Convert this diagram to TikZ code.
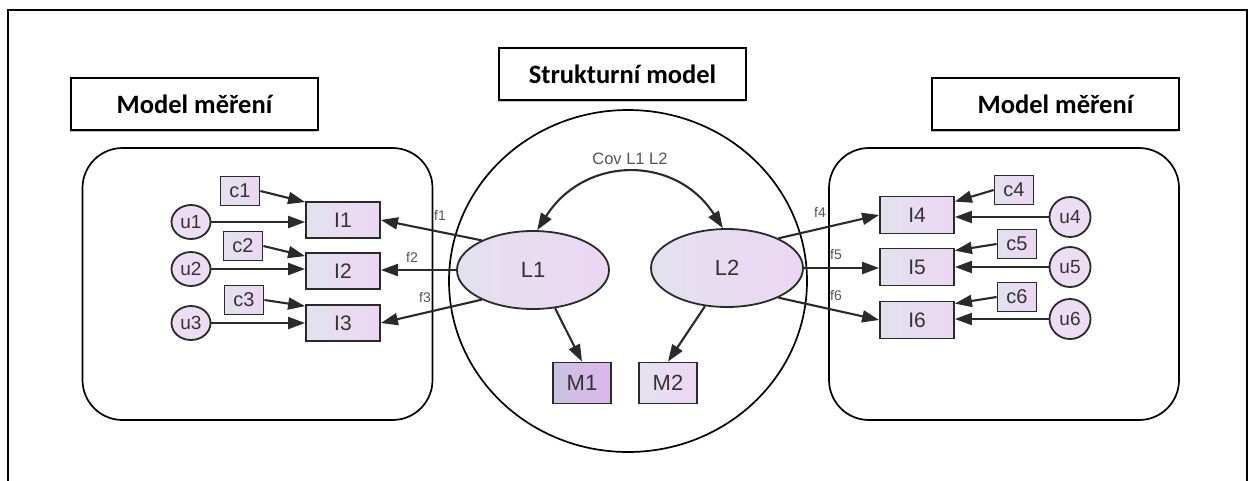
\documentclass[tikz,border=0pt]{standalone}
\usepackage{fontspec}
\setmainfont{Liberation Sans}
\newfontfamily\calfont{Carlito}
\newfontfamily\arfont{Liberation Sans}
\usetikzlibrary{arrows.meta,shapes.geometric,calc,shadows}
\definecolor{boxL}{HTML}{E2E2EE}
\definecolor{boxR}{HTML}{EDD6F3}
\definecolor{mL}{HTML}{C9C3DE}
\definecolor{mR}{HTML}{DDB6EE}
\definecolor{circfill}{HTML}{EDDDF3}
\definecolor{edge}{HTML}{2A2A2A}
\definecolor{lab}{HTML}{333333}
\definecolor{flabc}{HTML}{555555}
\tikzset{
  titlebox/.style={draw=black, line width=1.9, fill=white, minimum width=247, minimum height=52, inner sep=0,
     font=\calfont\bfseries\fontsize{26.5}{30}\selectfont,
     drop shadow={shadow xshift=-1.5pt, shadow yshift=-1.5pt, fill=gray!70, opacity=0.7}},
  group/.style={draw=black, line width=1.7, rounded corners=40, minimum width=350, minimum height=272, inner sep=0},
  ibox/.style={draw=edge, line width=1.8, left color=boxL, right color=boxR, minimum width=74, minimum height=36, inner sep=0,
     text=lab, font=\arfont\fontsize{21}{24}\selectfont},
  cbox/.style={draw=edge, line width=1.8, left color=boxL, right color=boxR, minimum width=39, minimum height=29, inner sep=0,
     text=lab, font=\arfont\fontsize{20}{22}\selectfont},
  ucirc/.style={draw=edge, line width=1.8, ellipse, fill=circfill, minimum width=39, minimum height=34, inner sep=0,
     text=lab, font=\arfont\fontsize{19}{20}\selectfont},
  lat/.style={draw=edge, line width=1.8, ellipse, left color=boxL, right color=boxR, minimum width=152, minimum height=78, inner sep=0,
     text=lab, font=\arfont\fontsize{22}{24}\selectfont},
  flab/.style={text=flabc, font=\arfont\fontsize{14}{15}\selectfont, inner sep=0},
  arr/.style={draw=edge, line width=2.1, -{Triangle[length=17,width=12]}},
  darr/.style={draw=edge, line width=2.1, {Triangle[length=17,width=12]}-{Triangle[length=17,width=12]}},
}
\begin{document}
\begin{tikzpicture}[x=1pt,y=-1pt]
\useasboundingbox (0,0) rectangle (1249,480);
\fill[white] (0,0) rectangle (1249,480);
% outer frame
\draw[line width=2.8] (8,500) -- (8,10) -- (1247,10) -- (1247,500);

% title boxes
\node[titlebox] (tL) at (194.5,104) {Model měření};
\node[titlebox] (tC) at (622.5,74) {Strukturní model};
\node[titlebox] (tR) at (1055.5,104) {Model měření};

% group shapes
\node[group] (gL) at (257.5,284) {};
\node[group] (gR) at (1004,284) {};
\node[draw=black, line width=1.7, ellipse, minimum width=358, minimum height=342, inner sep=0] (gC) at (628,281) {};

% left measurement model
\node[cbox] (c1) at (240,191) {c1};
\node[cbox] (c2) at (243,246) {c2};
\node[cbox] (c3) at (244,300) {c3};
\node[ucirc] (u1) at (191,222) {u1};
\node[ucirc] (u2) at (191,269) {u2};
\node[ucirc] (u3) at (191,323) {u3};
\node[ibox] (I1) at (343,220) {I1};
\node[ibox] (I2) at (343,271) {I2};
\node[ibox] (I3) at (343,323) {I3};

% right measurement model
\node[cbox] (c4) at (1014,190) {c4};
\node[cbox] (c5) at (1017,244) {c5};
\node[cbox] (c6) at (1017,297) {c6};
\node[ucirc, minimum width=41, minimum height=40] (u4) at (1070,217) {u4};
\node[ucirc, minimum width=41, minimum height=40] (u5) at (1070,267) {u5};
\node[ucirc, minimum width=41, minimum height=40] (u6) at (1070,319) {u6};
\node[ibox, minimum height=37] (I4) at (917,215) {I4};
\node[ibox, minimum height=37] (I5) at (917,267) {I5};
\node[ibox, minimum height=37] (I6) at (917,320) {I6};

% structural model
\node[lat] (L1) at (533,270) {L1};
\node[lat] (L2) at (727,268) {L2};
\node[ibox, minimum width=58, minimum height=41, left color=mL, right color=mR, font=\arfont\fontsize{22}{24}\selectfont] (M1) at (582,383) {M1};
\node[ibox, minimum width=58, minimum height=41, font=\arfont\fontsize{22}{24}\selectfont] (M2) at (668,383) {M2};
\node[text=flabc, font=\arfont\fontsize{16.5}{19}\selectfont, inner sep=0] (cov) at (630,159) {Cov L1 L2};

% labels
\node[flab] (f1) at (440,215) {f1};
\node[flab] (f2) at (412,257) {f2};
\node[flab] (f3) at (425,297) {f3};
\node[flab] (f4) at (820,212) {f4};
\node[flab] (f5) at (836,254) {f5};
\node[flab] (f6) at (836,295) {f6};

% left arrows
\draw[arr] (c1.east) -- ($(I1.north west)+(0,1)$);
\draw[arr] (c2.east) -- ($(I2.north west)+(0,4)$);
\draw[arr] (c3.east) -- ($(I3.north west)+(0,2)$);
\draw[arr] (u1.east) -- (u1.east -| I1.west);
\draw[arr] (u2.east) -- (u2.east -| I2.west);
\draw[arr] (u3.east) -- (u3.east -| I3.west);

% right arrows
\draw[arr] (c4.west) -- ($(I4.north east)+(0,6)$);
\draw[arr] (c5.west) -- ($(I5.north east)+(0,3)$);
\draw[arr] (c6.west) -- ($(I6.north east)+(0,3)$);
\draw[arr] (u4.west) -- (u4.west -| I4.east);
\draw[arr] (u5.west) -- (u5.west -| I5.east);
\draw[arr] (u6.west) -- (u6.west -| I6.east);

% loadings
\draw[arr] (L1.150) -- (I1.east);
\draw[arr] (L1.west) -- (L1.west -| I2.east);
\draw[arr] (L1.210) -- (I3.east);
\draw[arr] (L2.30) -- (I4.west);
\draw[arr] (L2.east) -- (L2.east -| I5.west);
\draw[arr] (L2.330) -- (I6.west);
\draw[arr] (L1.300) -- (M1.north);
\draw[arr] (L2.240) -- (M2.north);

% covariance
\draw[darr] (L1.84) .. controls (585,155) and (676,155) .. (L2.96);
\end{tikzpicture}
\end{document}
